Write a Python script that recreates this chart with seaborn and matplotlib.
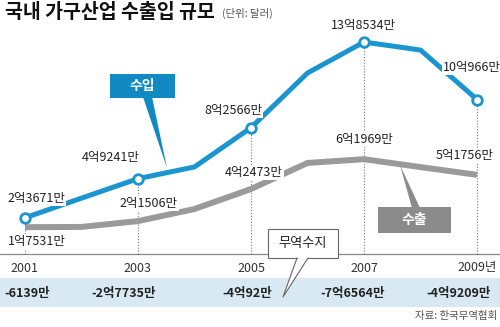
import matplotlib
matplotlib.use("Agg")
import matplotlib.pyplot as plt
import matplotlib.patches as mpatches
from matplotlib.transforms import Affine2D, blended_transform_factory
import pandas as pd
import seaborn as sns

# 국내 가구산업 수출입 (단위: 만 달러)
years = [2001, 2002, 2003, 2004, 2005, 2006, 2007, 2008, 2009]
imports = [23671, 36500, 49241, 56900, 82566, 118300, 138534, 133300, 100966]
exports = [17531, 17700, 21506, 29400, 42473, 59500, 61969, 56800, 51756]

label_years = [2001, 2003, 2005, 2007, 2009]
year_labels = ["2001", "2003", "2005", "2007", "2009년"]
trade_balance = [-6139, -27735, -40092, -76564, -49209]

title = "국내 가구산업 수출입 규모"
unit = "(단위: 달러)"
source = "자료: 한국무역협회"

BLUE = "#1a95d0"
BLUE_BOX = "#1189c3"
GRAY = "#9a9a9a"
GRAY_BOX = "#8b8b8b"
BAND = "#d8e9f3"
TEXT = "#222222"

sns.set_style("white")
plt.rcParams["font.family"] = ["Noto Sans CJK KR", "DejaVu Sans"]


def won(v):
    sign = "-" if v < 0 else ""
    eok, man = divmod(abs(v), 10000)
    return f"{sign}{eok}억{man}만" if eok else f"{sign}{man}만"


df = pd.DataFrame({"year": years, "수입": imports, "수출": exports})
marks = df[df["year"].isin(label_years)]

fig = plt.figure(figsize=(5, 3.27), dpi=100)
ax = fig.add_axes([0, 0, 1, 1])
ax.set_xlim(2000.558, 2009.407)
ax.set_ylim(-47712, 166013)
ax.axis("off")

# pixel coordinates measured from the top-left corner
px = Affine2D().scale(1 / 500, -1 / 327).translate(0, 1) + fig.transFigure
year_px = blended_transform_factory(ax.transData, px)

# baseline and dotted guides
ax.axhline(0, color="#8a8a8a", lw=0.9, zorder=1)
guide_top = [exports[0]] + list(marks["수입"].iloc[1:])
ax.vlines(label_years, 0, guide_top, colors="#777777", lw=0.8,
          linestyles=(0, (1, 1.6)), zorder=1)

# series lines
sns.lineplot(data=df, x="year", y="수출", ax=ax, color=GRAY, lw=4.3,
             legend=False, zorder=3)
sns.lineplot(data=df, x="year", y="수입", ax=ax, color=BLUE, lw=3.6,
             legend=False, zorder=4)
for line in ax.lines[-2:]:
    line.set_solid_capstyle("butt")
sns.scatterplot(data=marks, x="year", y="수입", ax=ax, s=48, color="white",
                edgecolor=BLUE, linewidth=2.0, zorder=6, legend=False)

# value labels
lab_font = dict(fontsize=9, color=TEXT, ha="center", va="center", zorder=5,
                bbox=dict(boxstyle="square,pad=0.08", fc="white", ec="none"))
imp_off = [(11, 19), (-27, 21), (-18, 17), (-1, 17), (-5, 32)]
exp_off = [(12, -14), (11, 18), (3, 17), (0, 20), (-12, 19)]
for (yr, v), off in zip(zip(marks["year"], marks["수입"]), imp_off):
    ax.annotate(won(v), (yr, v), xytext=off, textcoords="offset pixels",
                **lab_font)
for (yr, v), off in zip(zip(marks["year"], marks["수출"]), exp_off):
    ax.annotate(won(v), (yr, v), xytext=off, textcoords="offset pixels",
                **lab_font)

# series callouts
ax.add_patch(mpatches.Polygon([(143, 97), (152, 97), (167, 168)], closed=True,
                              fc=BLUE_BOX, ec="none", transform=px,
                              clip_on=False, zorder=7))
ax.add_patch(mpatches.Rectangle((110, 74), 65, 24, fc=BLUE_BOX, ec="none",
                                transform=px, clip_on=False, zorder=7))
ax.text(142.5, 86, "수입", transform=px, color="white", fontsize=10,
        fontweight="bold", ha="center", va="center", zorder=8)

ax.add_patch(mpatches.Polygon([(412, 208), (420, 208), (400, 165)],
                              closed=True, fc=GRAY_BOX, ec="none",
                              transform=px, clip_on=False, zorder=7))
ax.add_patch(mpatches.Rectangle((378, 207), 73, 26, fc=GRAY_BOX, ec="none",
                                transform=px, clip_on=False, zorder=7))
ax.text(414.5, 220, "수출", transform=px, color="white", fontsize=10,
        fontweight="bold", ha="center", va="center", zorder=8)

# year labels
for yr, s in zip(label_years, year_labels):
    if s.endswith("년"):
        ax.text(497, 268, s, transform=px, fontsize=9, color="#333333",
                ha="right", va="center")
    else:
        ax.text(yr, 268, s, transform=year_px, fontsize=9, color="#333333",
                ha="center", va="center")

# trade balance band
ax.add_patch(mpatches.Rectangle((0, 278), 500, 29, fc=BAND, ec="none",
                                transform=px, clip_on=False, zorder=1))
bal_pos = [(4, "left"), (124, "center"), (247, "center"), (353, "center"),
           (491, "right")]
for v, (x, ha) in zip(trade_balance, bal_pos):
    ax.text(x, 294, won(v), transform=px, fontsize=9, fontweight="bold",
            color=TEXT, ha=ha, va="center", zorder=3)

# trade balance callout
ax.add_patch(mpatches.Polygon([(297, 257), (308, 257), (283, 297)],
                              closed=True, fc="white", ec="none",
                              transform=px, clip_on=False, zorder=2))
ax.add_patch(mpatches.Rectangle((268, 229), 70, 29, fc="white", ec="#666666",
                                lw=0.8, transform=px, clip_on=False, zorder=2))
ax.add_patch(mpatches.Rectangle((297.5, 256), 10, 3, fc="white", ec="none",
                                transform=px, clip_on=False, zorder=3))
ax.plot([297, 283, 308], [258, 297, 258], color="#666666", lw=0.8,
        transform=px, clip_on=False, zorder=3)
ax.text(303, 243, "무역수지", transform=px, fontsize=9.5, color=TEXT,
        ha="center", va="center", zorder=4)

# title, unit and source
ax.text(5, 12, title, transform=px, fontsize=14, fontweight="bold",
        color="#111111", ha="left", va="center")
ax.text(222, 13, unit, transform=px, fontsize=7.5, color="#555555",
        ha="left", va="center")
ax.text(497, 316, source, transform=px, fontsize=7.5, color="#555555",
        ha="right", va="center")

fig.savefig("out.png", dpi=100)
